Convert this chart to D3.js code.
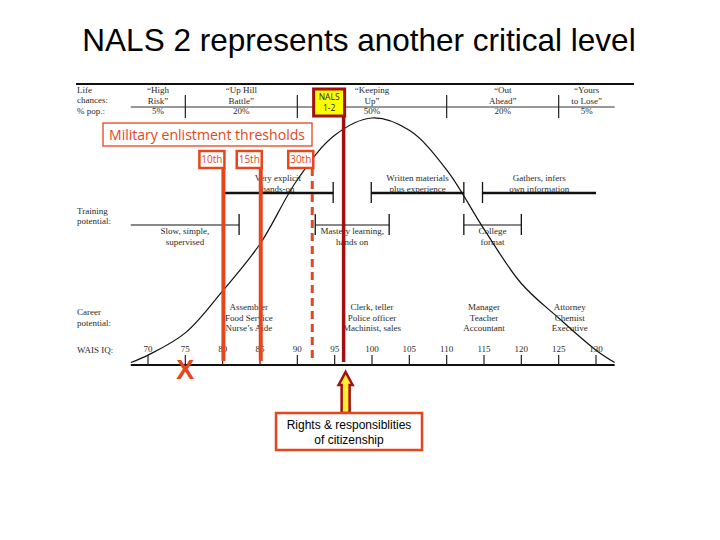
<!DOCTYPE html>
<html>
<head>
<meta charset="utf-8">
<script src="https://cdn.jsdelivr.net/npm/d3@7"></script>
<style>
  body { margin: 0; background: #fff; }
  svg { display: block; }
</style>
</head>
<body>
<div id="chart-area"></div>
<script>
/*
*    NALS slide - bell curve of WAIS IQ with overlays
*/

// data
var iqTicks = [70, 75, 80, 85, 90, 95, 100, 105, 110, 115, 120, 125, 130];
var curveIQ  = [67.7, 70, 75, 80, 85, 90, 95, 100, 105, 110, 115, 120, 125, 130, 132.5];
var curveRel = [0.01, 0.04, 0.13, 0.30, 0.49, 0.75, 0.93, 1.0, 0.95, 0.79, 0.55, 0.33, 0.19, 0.06, 0.01];

var lifeBounds = [67.7, 75, 90, 110, 125, 132.5];
var lifeNames = [["\u201cHigh", "Risk\u201d"], ["\u201cUp Hill", "Battle\u201d"], ["\u201cKeeping", "Up\u201d"],
                 ["\u201cOut", "Ahead\u201d"], ["\u201cYours", "to Lose\u201d"]];
var lifePct = ["5%", "20%", "50%", "20%", "5%"];

// training potential bars: [from, to, tickLeft, tickRight]
var trainUpper = [[80, 94.8, 0, 1], [99.9, 112.3, 1, 1], [114.8, 130, 1, 0]];
var trainUpperText = [["Very explicit", "hands-on"], ["Written materials", "plus experience"], ["Gathers, infers", "own information"]];
var trainLower = [[67.7, 82.2, 0, 1], [92.4, 102.3, 1, 1], [112.3, 120, 1, 1]];
var trainLowerText = [["Slow, simple,", "supervised"], ["Mastery learning,", "hands on"], ["College", "format"]];

var careerIQ = [83.5, 100, 115, 126.5];
var careerText = [["Assembler", "Food Service", "Nurse\u2019s Aide"], ["Clerk, teller", "Police officer", "Machinist, sales"],
                  ["Manager", "Teacher", "Accountant"], ["Attorney", "Chemist", "Executive"]];

var enlistLabels = ["10th", "15th", "30th"];
var enlistIQ = [80.1, 85.1, 92];
var nalsIQ = 96.2;
var failIQ = 75;

var width = 720;
var height = 540;
var red = "#e4461d";
var darkRed = "#a3100f";
var ink = "#2a2a2a";
var serif = "'Liberation Serif', 'DejaVu Serif', serif";

var svg = d3.select("#chart-area").append("svg")
    .attr("width", width)
    .attr("height", height);

var x = d3.scaleLinear().domain([70, 130]).range([148, 596]);
var y = d3.scaleLinear().domain([0, 1]).range([365, 118]);

// title
svg.append("text")
    .attr("x", 359)
    .attr("y", 51)
    .attr("text-anchor", "middle")
    .attr("font-family", "'Liberation Sans', Arial, sans-serif")
    .attr("font-size", "31.5px")
    .style("fill", "black")
    .text("NALS 2 represents another critical level");

var g = svg.append("g").attr("font-family", serif).style("fill", ink);

// top rule and header rule
g.append("line").attr("x1", 76).attr("x2", 634).attr("y1", 84).attr("y2", 84)
    .attr("stroke", "#111").attr("stroke-width", 2);
g.append("line").attr("x1", x(67.7)).attr("x2", x(132.5)).attr("y1", 107).attr("y2", 107)
    .attr("stroke", "#333").attr("stroke-width", 1);
g.selectAll(".life-div").data(lifeBounds.slice(1, -1)).enter().append("line")
    .attr("class", "life-div")
    .attr("x1", (d) => x(d)).attr("x2", (d) => x(d))
    .attr("y1", 95).attr("y2", 118)
    .attr("stroke", "#222").attr("stroke-width", 1.2);

// left row labels
var rowLabels = [["Life", 90], ["chances:", 100], ["% pop.:", 111], ["Training", 211], ["potential:", 221],
                 ["Career", 312], ["potential:", 323], ["WAIS IQ:", 350]];
g.selectAll(".row-label").data(rowLabels).enter().append("text")
    .attr("class", "row-label")
    .attr("x", 77).attr("y", (d) => d[1])
    .attr("dy", "0.35em")
    .attr("font-size", "9px")
    .text((d) => d[0]);

// life chance columns
lifeNames.forEach((names, i) => {
  var cx = x((lifeBounds[i] + lifeBounds[i + 1]) / 2);
  [names[0], names[1], lifePct[i]].forEach((t, j) => {
    g.append("text")
        .attr("x", cx).attr("y", 90 + j * 10.5)
        .attr("dy", "0.35em")
        .attr("text-anchor", "middle")
        .attr("font-size", "9px")
        .text(t);
  });
});

// bell curve
var line = d3.line()
    .x((d, i) => x(curveIQ[i]))
    .y((d) => y(d))
    .curve(d3.curveCatmullRom);
g.append("path")
    .datum(curveRel)
    .attr("d", line)
    .attr("fill", "none")
    .attr("stroke", "#111")
    .attr("stroke-width", 1.2);

// training potential bars
function drawBars(bars, texts, by, thick, above) {
  bars.forEach((b, i) => {
    g.append("line").attr("x1", x(b[0])).attr("x2", x(b[1])).attr("y1", by).attr("y2", by)
        .attr("stroke", "#111").attr("stroke-width", thick);
    if (b[2]) g.append("line").attr("x1", x(b[0])).attr("x2", x(b[0])).attr("y1", by - 11).attr("y2", by + 10)
        .attr("stroke", "#111").attr("stroke-width", 1.3);
    if (b[3]) g.append("line").attr("x1", x(b[1])).attr("x2", x(b[1])).attr("y1", by - 11).attr("y2", by + 10)
        .attr("stroke", "#111").attr("stroke-width", 1.3);
    var cx = x((b[0] + b[1]) / 2);
    texts[i].forEach((t, j) => {
      g.append("text")
          .attr("x", cx)
          .attr("y", above ? by - 15 + j * 11 : by + 6 + j * 11)
          .attr("dy", "0.35em")
          .attr("text-anchor", "middle")
          .attr("font-size", "9px")
          .text(t);
    });
  });
}
drawBars(trainUpper, trainUpperText, 193, 2.5, true);
drawBars(trainLower, trainLowerText, 225, 1, false);

// career potential
careerIQ.forEach((iq, i) => {
  careerText[i].forEach((t, j) => {
    g.append("text")
        .attr("x", x(iq)).attr("y", 307 + j * 10.5)
        .attr("dy", "0.35em")
        .attr("text-anchor", "middle")
        .attr("font-size", "9px")
        .text(t);
  });
});

// IQ axis
g.append("line").attr("x1", x(67.7)).attr("x2", x(132.5)).attr("y1", 365).attr("y2", 365)
    .attr("stroke", "#111").attr("stroke-width", 2);
g.selectAll(".iq-tick").data(iqTicks).enter().append("line")
    .attr("class", "iq-tick")
    .attr("x1", (d) => x(d)).attr("x2", (d) => x(d))
    .attr("y1", 355).attr("y2", 365)
    .attr("stroke", "#222").attr("stroke-width", 1.2);
g.selectAll(".iq-label").data(iqTicks).enter().append("text")
    .attr("class", "iq-label")
    .attr("x", (d) => x(d)).attr("y", 349)
    .attr("dy", "0.35em")
    .attr("text-anchor", "middle")
    .attr("font-size", "9px")
    .text((d) => d);

// military enlistment box
svg.append("rect").attr("x", 103).attr("y", 123).attr("width", 209).attr("height", 23)
    .attr("fill", "white").attr("stroke", red).attr("stroke-width", 1.3);
svg.append("text")
    .attr("x", 207).attr("y", 135)
    .attr("dy", "0.35em")
    .attr("text-anchor", "middle")
    .attr("font-family", "'Open Sans', 'Noto Sans', sans-serif")
    .attr("font-size", "14px")
    .attr("textLength", 196)
    .attr("lengthAdjust", "spacingAndGlyphs")
    .style("fill", red)
    .text("Military enlistment thresholds");

// threshold lines + boxes
enlistIQ.forEach((iq, i) => {
  var lx = x(iq);
  svg.append("line").attr("x1", lx).attr("x2", lx).attr("y1", 168).attr("y2", 361)
      .attr("stroke", red)
      .attr("stroke-width", i == 2 ? 3 : 4)
      .attr("stroke-dasharray", i == 2 ? "8,5" : null);
  svg.append("rect").attr("x", lx - 24).attr("y", 151).attr("width", 25).attr("height", 17)
      .attr("fill", "white").attr("stroke", red).attr("stroke-width", 2.5);
  svg.append("text")
      .attr("x", lx - 11.5).attr("y", 159.5)
      .attr("dy", "0.35em")
      .attr("text-anchor", "middle")
      .attr("font-family", "'Open Sans', 'Noto Sans', sans-serif")
      .attr("font-size", "10px")
      .style("fill", red)
      .text(enlistLabels[i]);
});

// NALS 1-2 line + box
var nx = x(nalsIQ);
svg.append("line").attr("x1", nx).attr("x2", nx).attr("y1", 116).attr("y2", 362)
    .attr("stroke", darkRed).attr("stroke-width", 3.5);
svg.append("rect").attr("x", nx - 30).attr("y", 89).attr("width", 31).attr("height", 27)
    .attr("fill", "#ffff00").attr("stroke", darkRed).attr("stroke-width", 3);
["NALS", "1-2"].forEach((t, j) => {
  svg.append("text")
      .attr("x", nx - 14.5).attr("y", 97 + j * 11.5)
      .attr("dy", "0.35em")
      .attr("text-anchor", "middle")
      .attr("font-family", "'Open Sans', 'Noto Sans', sans-serif")
      .attr("font-size", "8.5px")
      .style("fill", "#1a1a40")
      .text(t);
});

// X at IQ 75
svg.append("text")
    .attr("x", x(failIQ)).attr("y", 370)
    .attr("dy", "0.35em")
    .attr("text-anchor", "middle")
    .attr("font-family", "'Liberation Sans', Arial, sans-serif")
    .attr("font-weight", "bold")
    .attr("font-size", "27px")
    .style("fill", red)
    .text("X");

// arrow up to the NALS line
var ax = nx + 2;
var arrow = d3.path();
arrow.moveTo(ax, 372);
arrow.lineTo(ax + 7, 385);
arrow.lineTo(ax + 4, 385);
arrow.lineTo(ax + 4, 413);
arrow.lineTo(ax - 4, 413);
arrow.lineTo(ax - 4, 385);
arrow.lineTo(ax - 7, 385);
arrow.closePath();
svg.append("path").attr("d", arrow.toString())
    .attr("fill", "#ffee33").attr("stroke", darkRed).attr("stroke-width", 2.5)
    .attr("stroke-linejoin", "miter");

// rights box
svg.append("rect").attr("x", 276).attr("y", 413).attr("width", 146).attr("height", 37)
    .attr("fill", "white").attr("stroke", red).attr("stroke-width", 2.5);
["Rights & responsiblities", "of citizenship"].forEach((t, j) => {
  svg.append("text")
      .attr("x", 349).attr("y", 425 + j * 15)
      .attr("dy", "0.35em")
      .attr("text-anchor", "middle")
      .attr("font-family", "'Liberation Sans', Arial, sans-serif")
      .attr("font-size", "12px")
      .style("fill", "black")
      .text(t);
});
</script>
</body>
</html>
